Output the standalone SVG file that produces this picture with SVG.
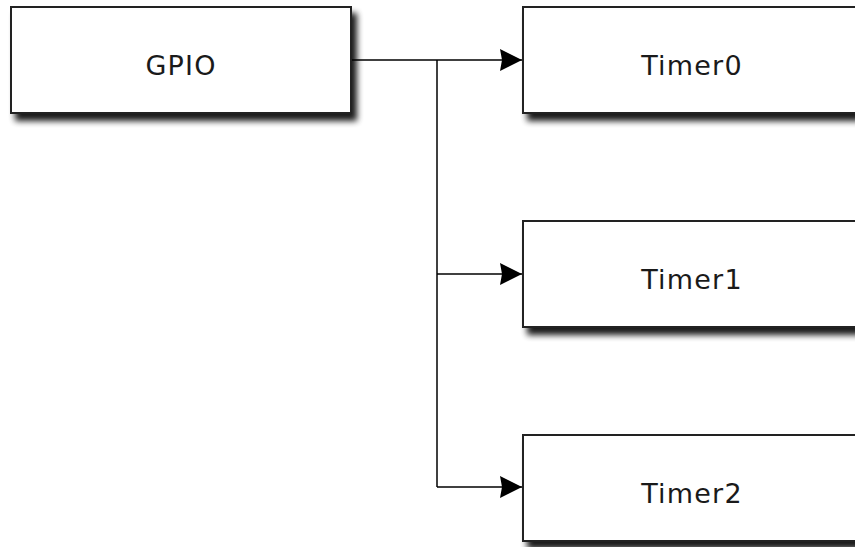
<svg xmlns="http://www.w3.org/2000/svg" width="855" height="547" viewBox="0 0 855 547">
  <style>
    .box { fill: #ffffff; stroke: #222222; stroke-width: 2; filter: url(#shadow); }
    .label { font-family: "DejaVu Sans", Verdana, sans-serif; font-size: 27px; letter-spacing: 1.2px; fill: #1a1a1a; text-anchor: middle; }
    .conn { fill: none; stroke: #000000; stroke-width: 1.5; }
  </style>
  <defs>
    <filter id="shadow" x="-10%" y="-20%" width="130%" height="150%">
      <feGaussianBlur in="SourceAlpha" stdDeviation="3"/>
      <feOffset dx="5" dy="7" result="b"/>
      <feComponentTransfer><feFuncA type="linear" slope="0.9"/></feComponentTransfer>
      <feMerge><feMergeNode/><feMergeNode in="SourceGraphic"/></feMerge>
    </filter>
    <marker id="arrow" viewBox="0 0 22 22" refX="22" refY="11" markerWidth="22" markerHeight="22" markerUnits="userSpaceOnUse" orient="auto">
      <path d="M0,0 L22,11 L0,22 L2,11 Z" fill="#000000"/>
    </marker>
  </defs>
  <g id="connectors">
    <path class="conn" d="M351,60 H522" marker-end="url(#arrow)"/>
    <path class="conn" d="M437,60 V487"/>
    <path class="conn" d="M437,274 H522" marker-end="url(#arrow)"/>
    <path class="conn" d="M437,487 H522" marker-end="url(#arrow)"/>
  </g>
  <g id="gpio">
    <rect class="box" x="11" y="7" width="340" height="106"/>
    <text class="label" x="181" y="75">GPIO</text>
  </g>
  <g id="timer0">
    <rect class="box" x="523" y="7" width="340" height="106"/>
    <text class="label" x="692" y="75">Timer0</text>
  </g>
  <g id="timer1">
    <rect class="box" x="523" y="221" width="340" height="106"/>
    <text class="label" x="692" y="289">Timer1</text>
  </g>
  <g id="timer2">
    <rect class="box" x="523" y="435" width="340" height="106"/>
    <text class="label" x="692" y="503">Timer2</text>
  </g>
</svg>
